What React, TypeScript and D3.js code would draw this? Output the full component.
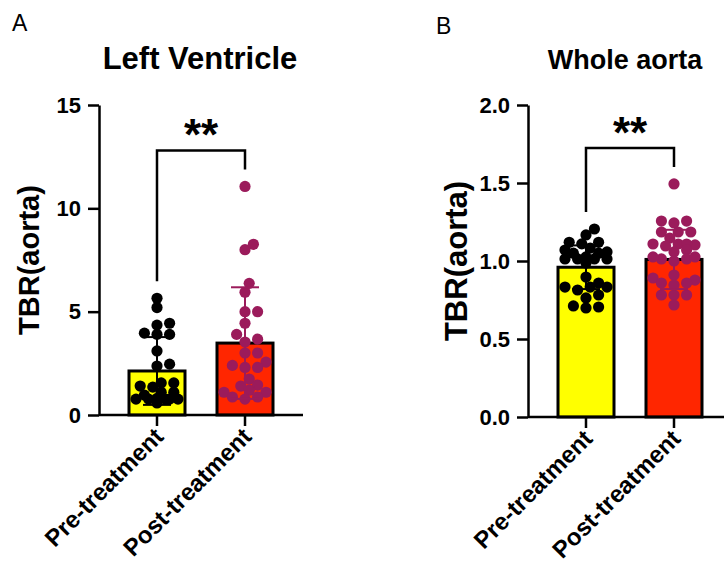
import React, { useEffect, useRef } from 'react'
import * as d3 from 'd3'

const groups = ['Pre-treatment', 'Post-treatment']
const barColors = ['#ffff00', '#ff2600']
const dotColors = ['#000000', '#9b1b5b']

// Left Ventricle
const lvPre = [5.65, 5.2, 4.44, 4.35, 3.9, 3.9, 3.96, 3.1, 2.46, 2.37, 1.55, 1.55, 1.4, 1.35, 1.1, 1.1, 0.96, 0.8, 0.77, 0.77, 0.77, 0.77, 0.77, 0.58]
const lvPost = [11.06, 8.0, 8.26, 6.37, 5.94, 5.0, 5.0, 4.44, 3.9, 3.53, 3.67, 3.0, 3.0, 2.56, 2.3, 2.3, 2.4, 1.74, 1.45, 1.4, 1.1, 1.1, 1.2, 0.87, 0.87, 0.77]
const lvMean = [2.13, 3.48]
const lvSD = [1.64, 2.7]
const lvTicks = [0, 5, 10, 15]

// Whole aorta
const aoPre = [1.205, 1.167, 1.12, 1.12, 1.11, 1.083, 1.058, 1.07, 1.05, 1.05, 1.013, 1.013, 1.013, 1.026, 1.013, 0.987, 0.897, 0.859, 0.833, 0.833, 0.814, 0.833, 0.782, 0.763, 0.705, 0.712, 0.699]
const aoPost = [1.494, 1.244, 1.256, 1.256, 1.186, 1.186, 1.186, 1.147, 1.109, 1.109, 1.103, 1.109, 1.096, 1.071, 1.058, 1.013, 1.013, 1.026, 1.026, 1.0, 0.891, 0.91, 0.878, 0.846, 0.859, 0.859, 0.782, 0.782, 0.782, 0.718]
const aoMean = [0.96, 1.01]
const aoSD = [0.14, 0.19]
const aoTicks = [0, 0.5, 1.0, 1.5, 2.0]

const FONT = "'Liberation Sans', Arial, Helvetica, sans-serif"

// simple beeswarm: smallest horizontal offset that keeps dots apart,
// limited to a max spread; if nothing fits, take the least crowded slot
const swarm = (ys: number[], minDist: number, step: number, maxOff: number) => {
  const order = ys.map((y, i) => i).sort((a, b) => ys[b] - ys[a])
  const placed: { x: number; y: number }[] = []
  const out: number[] = new Array(ys.length).fill(0)
  const cands: number[] = [0]
  for (let k = 1; k * step <= maxOff; k++) cands.push(k * step, -k * step)
  order.forEach((i) => {
    const y = ys[i]
    let best = 0
    let bestD = -1
    for (const off of cands) {
      const d = placed.length ? Math.min(...placed.map((p) => Math.hypot(p.x - off, p.y - y))) : Infinity
      if (d >= minDist) { best = off; bestD = d; break }
      if (d > bestD) { bestD = d; best = off }
    }
    placed.push({ x: best, y })
    out[i] = best
  })
  return out
}

const drawPanel = (svg: any, cfg: any) => {
  const { x0, yTop, yBottom, yMax, ticks, fmt, pre, post, mean, sd, title, titleX, titleSize, letter, letterX, letterY, yTitleX, yTitleSize } = cfg
  const axisLen = 204
  const g = svg.append('g')

  const x = d3.scalePoint().domain(groups).range([x0, x0 + axisLen]).padding(0.659)
  const y = d3.scaleLinear().domain([0, yMax]).range([yBottom, yTop])
  const barW = 56

  // bars
  groups.forEach((grp, i) => {
    g.append('rect')
      .attr('x', x(grp)! - barW / 2)
      .attr('y', y(mean[i]))
      .attr('width', barW)
      .attr('height', y(0) - y(mean[i]))
      .attr('fill', barColors[i])
      .attr('stroke', '#000')
      .attr('stroke-width', 3)
  })

  // dots
  const sets = [pre, post]
  sets.forEach((vals: number[], i: number) => {
    const ys = vals.map((v) => y(v))
    const offs = swarm(ys, 9, 4.2, 25)
    g.selectAll(null)
      .data(vals)
      .enter()
      .append('circle')
      .attr('cx', (d: number, j: number) => x(groups[i])! + offs[j])
      .attr('cy', (d: number) => y(d))
      .attr('r', 5.6)
      .attr('fill', dotColors[i])
  })

  // error bars (SD)
  groups.forEach((grp, i) => {
    const cx = x(grp)!
    const lo = y(Math.max(0, mean[i] - sd[i]))
    const hi = y(mean[i] + sd[i])
    const eb = g.append('g').attr('stroke', dotColors[i]).attr('stroke-width', 2)
    eb.append('line').attr('x1', cx).attr('x2', cx).attr('y1', lo).attr('y2', hi)
    eb.append('line').attr('x1', cx - 14).attr('x2', cx + 14).attr('y1', hi).attr('y2', hi)
    eb.append('line').attr('x1', cx - 14).attr('x2', cx + 14).attr('y1', lo).attr('y2', lo)
  })

  // y axis
  const yAxis = g.append('g')
    .attr('transform', `translate(${x0},0)`)
    .call(d3.axisLeft(y).tickValues(ticks).tickFormat(fmt).tickSize(11).tickSizeOuter(0).tickPadding(7))
  yAxis.select('.domain').attr('stroke', '#000').attr('stroke-width', 2.5)
  yAxis.selectAll('.tick line').attr('stroke', '#000').attr('stroke-width', 2.5)
  yAxis.selectAll('.tick text')
    .attr('font-family', FONT)
    .attr('font-size', 22)
    .attr('font-weight', 'bold')
    .attr('fill', '#000')

  // x axis
  g.append('line')
    .attr('x1', x0).attr('x2', x0 + axisLen)
    .attr('y1', y(0)).attr('y2', y(0))
    .attr('stroke', '#000').attr('stroke-width', 2.5)
  groups.forEach((grp) => {
    g.append('line')
      .attr('x1', x(grp)!).attr('x2', x(grp)!)
      .attr('y1', y(0)).attr('y2', y(0) + 11)
      .attr('stroke', '#000').attr('stroke-width', 2.5)
    g.append('text')
      .attr('transform', `translate(${x(grp)! + 8},${y(0) + 23}) rotate(-45)`)
      .attr('text-anchor', 'end')
      .attr('font-family', FONT)
      .attr('font-size', 24)
      .attr('font-weight', 'bold')
      .text(grp)
  })

  // significance bracket
  const legs = sets.map((vals: number[]) => y(d3.max(vals)!) - 17)
  const top = Math.min(...legs) - 19
  const xa = x(groups[0])!
  const xb = x(groups[1])!
  g.append('path')
    .attr('d', `M${xa},${legs[0]}V${top}H${xb}V${legs[1]}`)
    .attr('fill', 'none')
    .attr('stroke', '#000')
    .attr('stroke-width', 2.5)
  g.append('text')
    .attr('x', (xa + xb) / 2)
    .attr('y', top)
    .attr('text-anchor', 'middle')
    .attr('font-family', FONT)
    .attr('font-size', 44)
    .attr('font-weight', 'bold')
    .text('**')

  // titles
  g.append('text')
    .attr('x', titleX)
    .attr('y', 69)
    .attr('text-anchor', 'middle')
    .attr('font-family', FONT)
    .attr('font-size', titleSize)
    .attr('font-weight', 'bold')
    .text(title)
  g.append('text')
    .attr('x', letterX)
    .attr('y', letterY)
    .attr('font-family', FONT)
    .attr('font-size', 23)
    .text(letter)
  g.append('text')
    .attr('transform', `translate(${yTitleX},${(yTop + yBottom) / 2}) rotate(-90)`)
    .attr('text-anchor', 'middle')
    .attr('font-family', FONT)
    .attr('font-size', yTitleSize)
    .attr('font-weight', 'bold')
    .text('TBR(aorta)')
}

const App = () => {
  const svgRef = useRef<SVGSVGElement>(null)

  useEffect(() => {
    const svg = d3.select(svgRef.current)
    svg.selectAll('*').remove()
    svg.append('rect').attr('width', 724).attr('height', 565).attr('fill', '#fff')

    drawPanel(svg, {
      x0: 99, yTop: 105, yBottom: 415, yMax: 15, ticks: lvTicks, fmt: d3.format('d'),
      pre: lvPre, post: lvPost, mean: lvMean, sd: lvSD,
      title: 'Left Ventricle', titleX: 200, titleSize: 31,
      letter: 'A', letterX: 12, letterY: 31, yTitleX: 39, yTitleSize: 29,
    })
    drawPanel(svg, {
      x0: 528, yTop: 105, yBottom: 417, yMax: 2, ticks: aoTicks, fmt: d3.format('.1f'),
      pre: aoPre, post: aoPost, mean: aoMean, sd: aoSD,
      title: 'Whole aorta', titleX: 625, titleSize: 27,
      letter: 'B', letterX: 436, letterY: 34, yTitleX: 467, yTitleSize: 31,
    })
  }, [])

  return (
    <>
      <style>{'body{margin:0}'}</style>
      <svg ref={svgRef} width={724} height={565} style={{ display: 'block' }} />
    </>
  )
}

export default App
